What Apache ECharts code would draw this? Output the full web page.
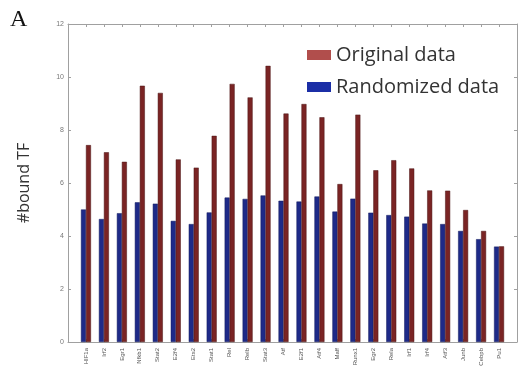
<!DOCTYPE html>
<html><head><meta charset="utf-8">
<script src="https://cdn.jsdelivr.net/npm/echarts@6/dist/echarts.min.js"></script>
<style>html,body{margin:0;padding:0;background:#fff}#c{width:521px;height:381px}</style>
</head><body><div id="c"></div>
<script>
const categories = ['HIF1a','Irf2','Egr1','Nfkb1','Stat2','E2f4','Ets2','Stat1','Rel','Relb','Stat3','Atf','E2f1','Atf4','Maff','Runx1','Egr2','Rela','Irf1','Irf4','Atf3','Junb','Cebpb','Pu1'];
const randomizedData = [5.0,4.64,4.86,5.27,5.22,4.57,4.45,4.89,5.45,5.4,5.53,5.33,5.3,5.49,4.92,5.41,4.88,4.79,4.73,4.47,4.45,4.19,3.88,3.6];
const originalData = [7.43,7.16,6.8,9.67,9.4,6.89,6.58,7.78,9.74,9.23,10.42,8.62,8.98,8.48,5.96,8.58,6.48,6.86,6.55,5.72,5.71,4.98,4.19,3.61];
const yTicks = [0,2,4,6,8,10,12];

const chart = echarts.init(document.getElementById('c'), null, {renderer:'canvas'});
const axisCol = '#a0a0a0';
const pos = categories.map((c,i)=>i+1);
chart.setOption({
  animation:false,
  backgroundColor:'#fff',
  graphic:[{type:'text', left:10, top:8, style:{text:'A', font:'24px "Liberation Serif", serif', fill:'#111'}}],
  legend:{
    left:302, top:40, orient:'vertical', itemWidth:24, itemHeight:10, itemGap:12, icon:'rect',
    textStyle:{fontSize:20, color:'#333', fontFamily:'"Open Sans", sans-serif'},
    data:[
      {name:'Original data', itemStyle:{color:'#b14e4c', borderWidth:0}},
      {name:'Randomized data', itemStyle:{color:'#1b2ea6', borderWidth:0}}
    ]
  },
  grid:{left:68, right:4, top:24, bottom:39},
  xAxis:[{
    type:'value', min:0, max:25, interval:1,
    axisLine:{show:true, onZero:false, lineStyle:{color:axisCol}},
    axisTick:{show:true, inside:true, length:3, lineStyle:{color:axisCol}},
    splitLine:{show:false},
    axisLabel:{rotate:90, fontSize:6, color:'#555', margin:6, showMinLabel:true, showMaxLabel:true,
      formatter:v=>{const i=Math.round(v)-1; return (i>=0&&i<categories.length)?categories[i]:'';}}
  },{
    type:'value', min:0, max:25, interval:1, position:'top',
    axisLine:{show:true, onZero:false, lineStyle:{color:axisCol}},
    axisTick:{show:true, inside:true, length:3, lineStyle:{color:axisCol}},
    axisLabel:{show:false}, splitLine:{show:false}
  }],
  yAxis:[{
    type:'value', min:0, max:12, interval:2,
    name:'#bound TF', nameLocation:'middle', nameGap:36,
    nameTextStyle:{fontSize:16, color:'#333', fontFamily:'"Open Sans", sans-serif'},
    axisLine:{show:true, onZero:false, lineStyle:{color:axisCol}},
    axisTick:{show:true, inside:true, length:3, lineStyle:{color:axisCol}},
    splitLine:{show:false},
    axisLabel:{fontSize:7, color:'#777', margin:4, formatter:v=>yTicks.includes(v)?String(v):''}
  },{
    type:'value', min:0, max:12, interval:2, position:'right',
    axisLine:{show:true, onZero:false, lineStyle:{color:axisCol}},
    axisTick:{show:true, inside:true, length:3, lineStyle:{color:axisCol}},
    axisLabel:{show:false}, splitLine:{show:false}
  }],
  series:[
    {name:'Randomized data', type:'bar', xAxisIndex:0, yAxisIndex:0, barWidth:5, barGap:'0%',
     itemStyle:{color:'#1e2a88', borderColor:'#121a5c', borderWidth:0.5},
     data:randomizedData.map((v,i)=>[pos[i], v])},
    {name:'Original data', type:'bar', xAxisIndex:0, yAxisIndex:0, barWidth:5, barGap:'0%',
     itemStyle:{color:'#7a2424', borderColor:'#4a1414', borderWidth:0.5},
     data:originalData.map((v,i)=>[pos[i], v])}
  ]
});
</script></body></html>
